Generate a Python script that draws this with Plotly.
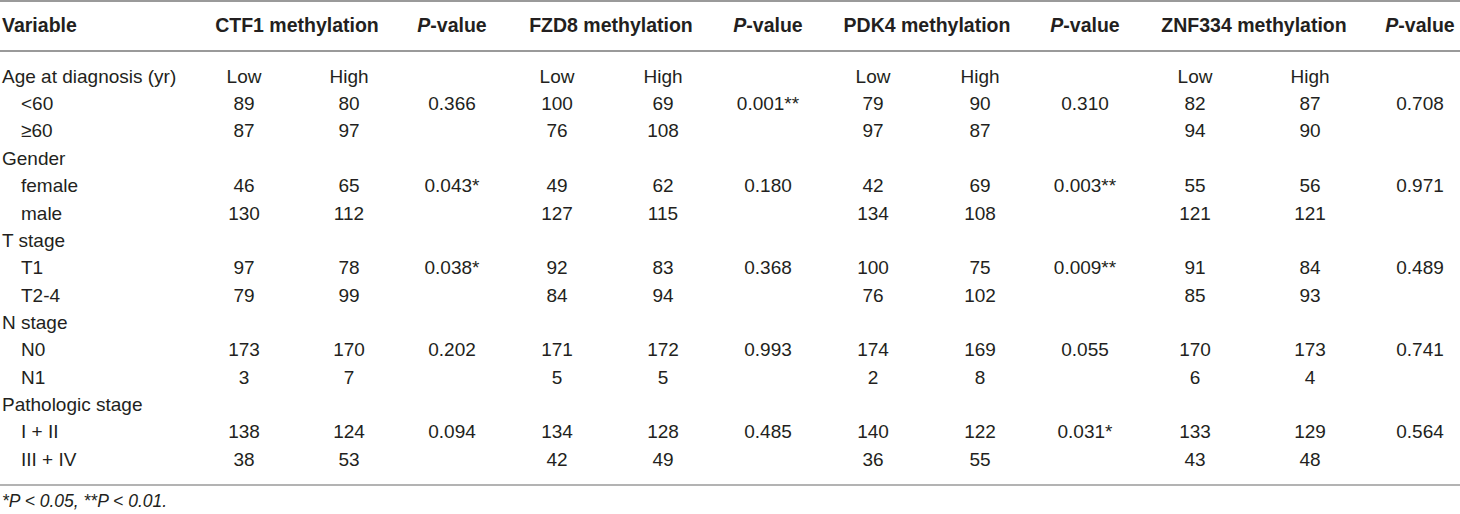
import plotly.graph_objects as go

# table content
variables = ["Age at diagnosis (yr)", "Gender", "T stage", "N stage", "Pathologic stage"]
levels = [["<60", "≥60"], ["female", "male"], ["T1", "T2-4"], ["N0", "N1"], ["I + II", "III + IV"]]
genes = ["CTF1", "FZD8", "PDK4", "ZNF334"]
sublabels = ["Low", "High"]

ctf1_low = [89, 87, 46, 130, 97, 79, 173, 3, 138, 38]
ctf1_high = [80, 97, 65, 112, 78, 99, 170, 7, 124, 53]
ctf1_p = ["0.366", "0.043*", "0.038*", "0.202", "0.094"]

fzd8_low = [100, 76, 49, 127, 92, 84, 171, 5, 134, 42]
fzd8_high = [69, 108, 62, 115, 83, 94, 172, 5, 128, 49]
fzd8_p = ["0.001**", "0.180", "0.368", "0.993", "0.485"]

pdk4_low = [79, 97, 42, 134, 100, 76, 174, 2, 140, 36]
pdk4_high = [90, 87, 69, 108, 75, 102, 169, 8, 122, 55]
pdk4_p = ["0.310", "0.003**", "0.009**", "0.055", "0.031*"]

znf334_low = [82, 94, 55, 121, 91, 85, 170, 6, 133, 43]
znf334_high = [87, 90, 56, 121, 84, 93, 173, 4, 129, 48]
znf334_p = ["0.708", "0.971", "0.489", "0.741", "0.564"]

footnote = "*P < 0.05, **P < 0.01."

W, H = 1460, 514
FONT = "Liberation Sans, Arial, sans-serif"
TXT = "#231f20"
LINE = "#9a9a9a"

# layout of the grid (pixels)
x_low = [244, 557, 873, 1195]
x_high = [349, 663, 980, 1310]
x_p = [452, 768, 1085, 1420]
x_head = [297, 611, 927, 1254]
row0, row_h = 78, 27.36
head_y = 27


def esc(s):
    return s.replace("<", "&lt;")


def row_y(i):
    return row0 + i * row_h


fig = go.Figure()


def add_text(xs, ys, texts, pos="middle center", size=19, color=TXT):
    fig.add_trace(go.Scatter(
        x=xs, y=ys, text=texts, mode="text", textposition=pos,
        textfont=dict(family=FONT, size=size, color=color),
        hoverinfo="skip", showlegend=False, cliponaxis=False))


# header row
head_t = ["<b>%s methylation</b>" % g for g in genes] + ["<b><i>P</i>-value</b>"] * 4
add_text([2], [head_y], ["<b>Variable</b>"], pos="middle right", size=19.5)
add_text(x_head + x_p, [head_y] * 8, head_t, size=19.5)

# variable column
vx, vy, vt = [], [], []
for g, (name, lv) in enumerate(zip(variables, levels)):
    r = g * 3
    vx.append(2); vy.append(row_y(r)); vt.append(esc(name))
    for k, l in enumerate(lv):
        vx.append(21); vy.append(row_y(r + 1 + k)); vt.append(esc(l))
add_text(vx, vy, vt, pos="middle right")

# Low / High labels
add_text(x_low + x_high, [row_y(0)] * 8, [sublabels[0]] * 4 + [sublabels[1]] * 4)

# counts and p-values
lows = [ctf1_low, fzd8_low, pdk4_low, znf334_low]
highs = [ctf1_high, fzd8_high, pdk4_high, znf334_high]
pvals = [ctf1_p, fzd8_p, pdk4_p, znf334_p]
data_rows = [g * 3 + 1 + k for g in range(len(variables)) for k in range(2)]
p_rows = [g * 3 + 1 for g in range(len(variables))]
for j in range(len(genes)):
    ys = [row_y(r) for r in data_rows]
    add_text([x_low[j]] * len(ys), ys, [str(v) for v in lows[j]])
    add_text([x_high[j]] * len(ys), ys, [str(v) for v in highs[j]])
    add_text([x_p[j]] * len(p_rows), [row_y(r) for r in p_rows], pvals[j])

# footnote
add_text([2], [503], ["<i>" + esc(footnote) + "</i>"], pos="middle right", size=17.5)

# rules
for y, wd in [(1, 2), (51, 2), (485, 1.5)]:
    fig.add_shape(type="line", x0=0, x1=W, y0=y, y1=y, xref="x", yref="y",
                  line=dict(color=LINE, width=wd))

fig.update_xaxes(range=[0, W], visible=False, fixedrange=True)
fig.update_yaxes(range=[H, 0], visible=False, fixedrange=True)
fig.update_layout(
    width=W, height=H,
    margin=dict(l=0, r=0, t=0, b=0),
    paper_bgcolor="white", plot_bgcolor="white",
)

fig.write_html("out.html", config={"displayModeBar": False},
               post_script="document.body.style.margin='0px';document.body.style.overflow='hidden';")
